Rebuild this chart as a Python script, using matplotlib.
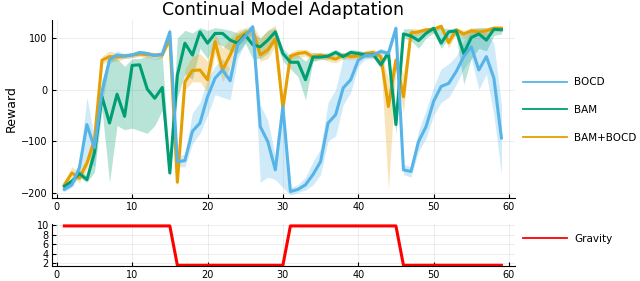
import numpy as np
import matplotlib
matplotlib.use("Agg")
import matplotlib.pyplot as plt

# episodes
episodes = np.arange(1, 60)

# mean reward per method
bocd = [-194, -185, -152, -68, -113, -4, 58, 67, 65, 67,
        72, 70, 66, 69, 112, -140, -138, -81, -65, -14,
        22, 38, 17, 87, 103, 122, -72, -101, -156, -33,
        -198, -194, -185, -165, -140, -65, -49, 3, 19, 57,
        67, 67, 74, 70, 119, -156, -159, -101, -72, -23,
        6, 12, 35, 64, 83, 38, 64, 22, -94]
bocd_lo = [-198, -190, -165, -130, -150, -30, 50, 60, 60, 62,
           66, 64, 58, 62, 105, -150, -150, -105, -85, -50,
           -10, -15, -20, 60, 90, 110, -180, -170, -175, -190,
           -205, -200, -195, -185, -165, -100, -90, -30, -5, 45,
           60, 60, 68, 62, 110, -165, -170, -120, -95, -50,
           -25, -15, 10, 40, 60, 0, 30, -50, -165]
bocd_hi = [-190, -180, -140, -15, -95, 10, 65, 75, 70, 72,
           76, 74, 70, 74, 120, -130, -125, -45, -25, 20,
           45, 60, 40, 100, 115, 125, -30, -60, -130, -20,
           -190, -185, -170, -140, -115, -25, 0, 60, 65, 75,
           72, 72, 80, 76, 125, -145, -150, -80, -40, 5,
           40, 50, 65, 95, 115, 115, 110, 90, -30]

bam = [-188, -178, -163, -175, -123, -14, -65, -9, -52, 47,
       48, 1, -17, 4, -162, 28, 90, 67, 112, 90,
       109, 109, 96, 90, 106, 87, 83, 96, 112, 70,
       53, 53, 19, 63, 63, 65, 72, 64, 72, 70,
       67, 68, 48, 72, -68, 108, 104, 95, 109, 119,
       90, 112, 114, 70, 101, 108, 96, 117, 116]
bam_lo = [-192, -183, -170, -180, -160, -40, -180, -70, -78, -75,
          -80, -85, -70, -40, -170, -15, 30, 20, 80, 60,
          90, 85, 75, 70, 90, 60, 60, 70, 95, 55,
          40, 25, -20, 55, 58, 59, 66, 58, 66, 64,
          61, 62, 40, 66, -85, 100, 95, 80, 100, 110,
          80, 100, 105, 10, 60, 80, 75, 105, 108]
bam_hi = [-184, -172, -155, -168, -90, 20, 60, 60, 45, 60,
          60, 65, 60, 65, -150, 100, 115, 110, 120, 115,
          120, 118, 115, 110, 118, 110, 100, 115, 120, 80,
          65, 68, 55, 72, 70, 71, 78, 70, 78, 76,
          73, 74, 56, 78, -40, 118, 118, 110, 118, 122,
          120, 118, 120, 110, 118, 120, 120, 122, 120]

bam_bocd = [-185, -162, -172, -143, -98, 57, 64, 63, 65, 67,
            69, 68, 67, 67, 99, -180, 15, 37, 38, 19,
            93, 38, 67, 101, 109, 116, 67, 77, 98, -36,
            65, 70, 72, 63, 67, 63, 59, 67, 64, 65,
            70, 72, 64, -33, 57, -14, 110, 112, 116, 117,
            123, 91, 116, 108, 114, 112, 114, 119, 119]
bam_bocd_lo = [-190, -170, -180, -155, -110, 50, 55, 55, 60, 62,
               64, 62, 62, 62, 95, -190, 0, 15, 15, -5,
               70, 15, 45, 85, 95, 105, 55, 60, 85, -55,
               58, 62, 65, 55, 60, 55, 52, 60, 58, 60,
               64, 65, 55, -195, 40, -45, 100, 105, 110, 110,
               118, 80, 110, 100, 105, 105, 105, 112, 114]
bam_bocd_hi = [-180, -150, -160, -130, -80, 65, 75, 70, 70, 72,
               74, 74, 72, 72, 105, -165, 40, 65, 70, 55,
               110, 80, 100, 115, 120, 125, 100, 115, 125, -15,
               72, 78, 78, 72, 72, 70, 66, 72, 70, 70,
               76, 78, 72, 20, 70, 30, 118, 118, 120, 122,
               126, 100, 120, 115, 120, 120, 120, 124, 124]

gravity = [9.8] * 15 + [1.6] * 15 + [9.8] * 15 + [1.6] * 14

# (label, mean, lower, upper, colour, z-order of the line)
series = [
    ("BOCD", bocd, bocd_lo, bocd_hi, "#56B4E9", 5),
    ("BAM", bam, bam_lo, bam_hi, "#009E73", 4),
    ("BAM+BOCD", bam_bocd, bam_bocd_lo, bam_bocd_hi, "#E69F00", 3),
]

plt.rcParams['font.family'] = ['DejaVu Sans']

fig = plt.figure(figsize=(6.4, 2.81), dpi=100)
ax = fig.add_axes([51.5 / 640, 1 - 197.7 / 281, (515 - 51.5) / 640, 178.2 / 281])
ax2 = fig.add_axes([51.5 / 640, 1 - 266 / 281, (515 - 51.5) / 640, 42 / 281])

for name, mean, lo, hi, col, z in series:
    ax.fill_between(episodes, lo, hi, color=col, alpha=0.28, linewidth=0, zorder=2)
for name, mean, lo, hi, col, z in series:
    ax.plot(episodes, mean, color=col, lw=2.2, label=name, zorder=z)

ax2.plot(episodes, gravity, color="#FF0000", lw=2.2, label="Gravity")

for a in (ax, ax2):
    a.spines['top'].set_visible(False)
    a.spines['right'].set_visible(False)
    a.set_xlim(-0.7, 60.8)
    a.set_xticks(range(0, 61, 10))
    a.grid(True, color='k', alpha=0.08, lw=0.6)
    a.set_axisbelow(True)
    a.tick_params(direction='in', length=3, width=0.8, labelsize=7, pad=3)

ax.set_ylim(-210, 136)
ax.set_yticks([-200, -100, 0, 100])
ax.set_ylabel("Reward", fontsize=9, labelpad=2)
ax.set_title("Continual Model Adaptation", fontsize=12.5, pad=3)

ax2.set_ylim(1.45, 10.2)
ax2.set_yticks([2, 4, 6, 8, 10])
ax2.tick_params(axis='y', pad=2)

leg = ax.legend(loc='center left', bbox_to_anchor=(523 / 640, 1 - 110 / 281),
                bbox_transform=fig.transFigure, frameon=False, fontsize=7.5,
                handlelength=4.2, handletextpad=0.7, labelspacing=1.7,
                borderpad=0, borderaxespad=0)
for ln in leg.get_lines():
    ln.set_linewidth(1.3)
leg2 = ax2.legend(loc='center left', bbox_to_anchor=(523 / 640, 1 - 239 / 281),
                  bbox_transform=fig.transFigure, frameon=False, fontsize=7.5,
                  handlelength=4.2, handletextpad=0.7, borderpad=0, borderaxespad=0)
for ln in leg2.get_lines():
    ln.set_linewidth(1.3)

fig.savefig("out.png", dpi=100)
